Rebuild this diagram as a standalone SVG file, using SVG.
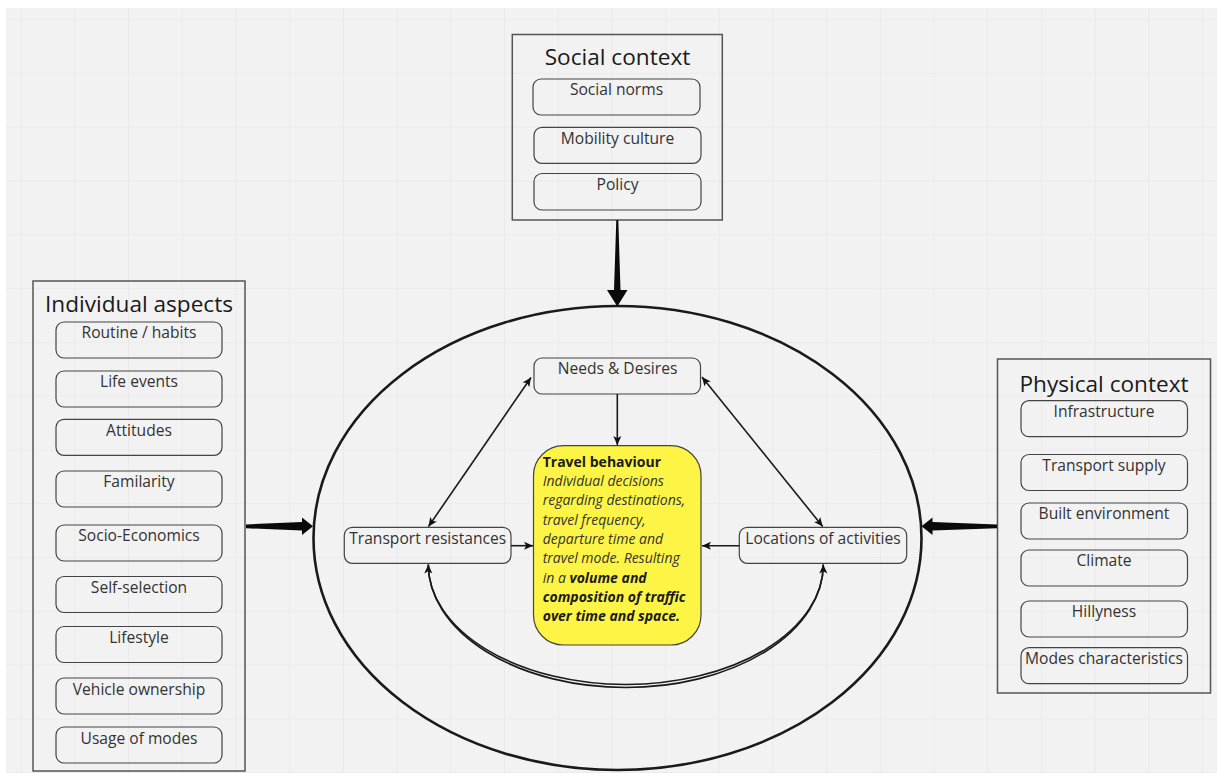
<svg xmlns="http://www.w3.org/2000/svg" width="1217" height="773" viewBox="0 0 1217 773">
<defs>
<pattern id="grid" x="20.7" y="19" width="53.7" height="53.8" patternUnits="userSpaceOnUse">
<path d="M0,0 V53.8 M0,0 H53.7" fill="none" stroke="#e4e4e4" stroke-width="1.2"/>
</pattern>
<marker id="ah" viewBox="0 0 10 10" refX="10" refY="5" markerWidth="10" markerHeight="9" markerUnits="userSpaceOnUse" orient="auto-start-reverse">
<path d="M0,0.5 L10,5 L0,9.5 L2.5,5 Z" fill="#111"/>
</marker>
<style>
.outer{fill:none;stroke:#555;stroke-width:1.5}
.box{fill:none;stroke:#444;stroke-width:1.2}
.title{font-family:'Open Sans','Liberation Sans',sans-serif;font-size:22.6px;fill:#1a1a1a;text-anchor:middle}
.lbl{font-family:'Open Sans','Liberation Sans',sans-serif;font-size:15.6px;fill:#333;text-anchor:middle}
.tb{font-family:'Open Sans','Liberation Sans',sans-serif;font-size:14px;fill:#333;font-style:italic}
.b{font-weight:bold;fill:#1a1a1a}
.con{fill:none;stroke:#1a1a1a;stroke-width:1.6}
.taper{fill:#0a0a0a}
</style>
</defs>
<rect x="0" y="0" width="1217" height="773" fill="#ffffff"/>
<rect x="6" y="8" width="1211" height="765" fill="#f2f2f2"/>
<rect x="6" y="8" width="1211" height="765" fill="url(#grid)"/>

<g id="social-context">
<rect class="outer" x="512.3" y="34.5" width="210" height="185.5"/>
<text class="title" x="617.5" y="64.5">Social context</text>
<rect class="box" x="533" y="79" width="167" height="36" rx="8"/>
<text class="lbl" x="616.5" y="95">Social norms</text>
<rect class="box" x="534" y="127.3" width="167" height="36" rx="8"/>
<text class="lbl" x="617.5" y="143.5">Mobility culture</text>
<rect class="box" x="534" y="173.5" width="167" height="36.5" rx="8"/>
<text class="lbl" x="617.5" y="190">Policy</text>
</g>

<g id="individual-aspects">
<rect class="outer" x="33" y="281" width="212" height="490"/>
<text class="title" x="139" y="311.5">Individual aspects</text>
<rect class="box" x="56" y="322" width="166" height="36" rx="8"/>
<text class="lbl" x="139" y="338">Routine / habits</text>
<rect class="box" x="56" y="371" width="166" height="36" rx="8"/>
<text class="lbl" x="139" y="387">Life events</text>
<rect class="box" x="56" y="419.3" width="166" height="36" rx="8"/>
<text class="lbl" x="139" y="435.5">Attitudes</text>
<rect class="box" x="56" y="471" width="166" height="36" rx="8"/>
<text class="lbl" x="139" y="487">Familarity</text>
<rect class="box" x="56" y="525" width="166" height="36" rx="8"/>
<text class="lbl" x="139" y="540.5">Socio-Economics</text>
<rect class="box" x="56" y="576.5" width="166" height="36" rx="8"/>
<text class="lbl" x="139" y="592.5">Self-selection</text>
<rect class="box" x="56" y="626.5" width="166" height="36" rx="8"/>
<text class="lbl" x="139" y="642.5">Lifestyle</text>
<rect class="box" x="56" y="678" width="166" height="36" rx="8"/>
<text class="lbl" x="139" y="694.5">Vehicle ownership</text>
<rect class="box" x="56" y="727" width="166" height="36" rx="8"/>
<text class="lbl" x="139" y="743.5">Usage of modes</text>
</g>

<g id="physical-context">
<rect class="outer" x="997.5" y="359" width="213" height="334"/>
<text class="title" x="1104" y="391.5">Physical context</text>
<rect class="box" x="1021" y="400.7" width="166.5" height="36" rx="8"/>
<text class="lbl" x="1104" y="416.5">Infrastructure</text>
<rect class="box" x="1021" y="454.5" width="166.5" height="36" rx="8"/>
<text class="lbl" x="1104" y="470.5">Transport supply</text>
<rect class="box" x="1021" y="503" width="166.5" height="36" rx="8"/>
<text class="lbl" x="1104" y="519">Built environment</text>
<rect class="box" x="1021" y="550" width="166.5" height="36" rx="8"/>
<text class="lbl" x="1104" y="566">Climate</text>
<rect class="box" x="1021" y="601" width="166.5" height="36" rx="8"/>
<text class="lbl" x="1104" y="617">Hillyness</text>
<rect class="box" x="1021" y="647.7" width="166.5" height="36" rx="8"/>
<text class="lbl" x="1104" y="663.5">Modes characteristics</text>
</g>

<g id="travel-system">
<ellipse cx="617.5" cy="538" rx="304" ry="232" fill="none" stroke="#1a1a1a" stroke-width="2.6"/>
</g>

<g id="needs-desires">
<rect class="box" x="534" y="358" width="166.5" height="36" rx="8"/>
<text class="lbl" x="617.5" y="374">Needs &amp; Desires</text>
</g>

<g id="transport-resistances">
<rect class="box" x="344.3" y="527.3" width="166.7" height="36" rx="8"/>
<text class="lbl" x="427.7" y="544">Transport resistances</text>
</g>

<g id="locations-of-activities">
<rect class="box" x="739.3" y="527.3" width="167.4" height="36" rx="8"/>
<text class="lbl" x="823" y="544">Locations of activities</text>
</g>

<g id="travel-behaviour">
<rect x="533.5" y="445.7" width="167.5" height="199.3" rx="30" fill="#fef445" stroke="#444" stroke-width="1.2"/>
<text class="tb" x="542.7" y="466.7"><tspan class="b" font-style="normal">Travel behaviour</tspan></text>
<text class="tb" x="542.7" y="486">Individual decisions</text>
<text class="tb" x="542.7" y="505.3">regarding destinations,</text>
<text class="tb" x="542.7" y="524.6">travel frequency,</text>
<text class="tb" x="542.7" y="543.9">departure time and</text>
<text class="tb" x="542.7" y="563.2">travel mode. Resulting</text>
<text class="tb" x="542.7" y="582.5">in a <tspan class="b">volume and</tspan></text>
<text class="tb b" x="542.7" y="601.8">composition of traffic</text>
<text class="tb b" x="542.7" y="621.1">over time and space.</text>
</g>

<g id="connectors">
<polygon class="taper" points="616.3,220 618.3,220 620.5,290 627.5,290 617.3,306.5 607,290 614,290"/>
<polygon class="taper" points="246,524.4 246,528.2 302,530.6 302,535 313,526.3 302,517.6 302,522"/>
<polygon class="taper" points="997,524.4 997,528.2 932.5,530.6 932.5,535 921.5,526.3 932.5,517.6 932.5,522"/>
<line class="con" x1="617.3" y1="394" x2="617.3" y2="445" marker-end="url(#ah)"/>
<line class="con" x1="531" y1="377.5" x2="428.5" y2="526.5" marker-start="url(#ah)" marker-end="url(#ah)"/>
<line class="con" x1="702" y1="377" x2="822.7" y2="526.5" marker-start="url(#ah)" marker-end="url(#ah)"/>
<line class="con" x1="511" y1="545.7" x2="533" y2="545.7" marker-end="url(#ah)"/>
<line class="con" x1="739.3" y1="545.7" x2="702" y2="545.7" marker-end="url(#ah)"/>
<path class="con" d="M428.3,564.5 A197.5,123 0 0 0 823.3,564.5" marker-start="url(#ah)"/>
<path class="con" d="M428.3,564.5 A197.5,120 0 0 0 823.3,564.5" marker-end="url(#ah)"/>
</g>
</svg>
